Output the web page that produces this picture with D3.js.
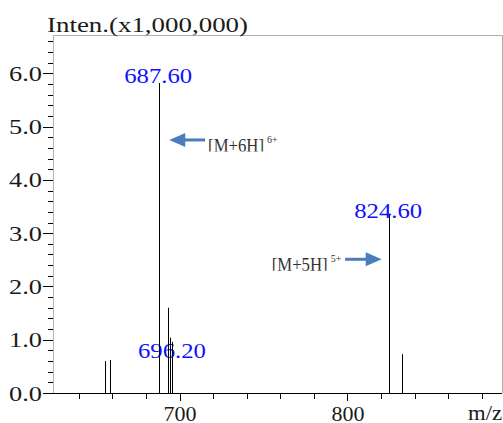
<!DOCTYPE html>
<html>
<head>
<meta charset="utf-8">
<script src="https://cdn.jsdelivr.net/npm/d3@7/dist/d3.min.js"></script>
<style>
  html, body { margin: 0; padding: 0; background: #fff; }
  svg { display: block; }
  text { font-family: "Liberation Serif", "DejaVu Serif", serif; }
</style>
</head>
<body>
<svg id="chart" width="503" height="423"></svg>
<script>
// ---- data ----
const peakMz        = [655.8, 658.8, 687.6, 693.3, 694.6, 695.8, 824.6, 832.3];
const peakIntensity = [0.60, 0.62, 5.82, 1.60, 1.04, 0.96, 3.34, 0.73];

const labelText      = ["687.60", "696.20", "824.60"];
const labelMz        = [687.6, 695.8, 824.6];
const labelIntensity = [5.82, 0.67, 3.30];

const annText    = ["[M+6H]", "[M+5H]"];
const annCharge  = ["6+", "5+"];
const annTailMz  = [715.2, 798.6];
const annTipMz   = [693.9, 820.4];
const annLevel   = [4.75, 2.51];
const annTextMz  = [717.0, 754.9];

const yMajorTicks = [0, 1, 2, 3, 4, 5, 6];
const yMinorTicks = d3.range(0, 34).map(i => i * 0.2);
const xMajorTicks = [700, 800];
const xMinorTicks = d3.range(640, 881, 20);

// ---- layout ----
const svg = d3.select("#chart");
const L = 53, R = 502, T = 35, B = 393;
const x = d3.scaleLinear().domain([624.65, 892.07]).range([L, R]);
const y = d3.scaleLinear().domain([0, 6.72]).range([B, T]);

const ink = "#000";
const frame = "#b0b0b0";
const blue = "#1010ff";
const arrowBlue = "#4a7ebb";
const annInk = "#333";
const textInk = "#1a1a1a";

// frame: left, top, right (gray)
svg.append("path")
  .attr("d", `M${L},${B}V${T}H${R}V${B}`)
  .attr("fill", "none").attr("stroke", frame).attr("stroke-width", 1)
  .attr("shape-rendering", "crispEdges");

// y axis minor
const gyMin = svg.append("g").attr("transform", `translate(${L},0)`)
  .call(d3.axisLeft(y).tickValues(yMinorTicks.filter(v => v <= 6.72)).tickSize(5).tickFormat(""));
gyMin.select(".domain").remove();
// y axis major
const gyMaj = svg.append("g").attr("transform", `translate(${L},0)`)
  .call(d3.axisLeft(y).tickValues(yMajorTicks).tickSize(10).tickPadding(1).tickFormat(d3.format(".1f")));
gyMaj.select(".domain").remove();
gyMaj.selectAll("text")
  .attr("font-size", 22).attr("font-family", "Liberation Serif")
  .attr("fill", textInk)
  .attr("textLength", 33).attr("lengthAdjust", "spacingAndGlyphs");

// x axis minor
const gxMin = svg.append("g").attr("transform", `translate(0,${B})`)
  .call(d3.axisBottom(x).tickValues(xMinorTicks).tickSize(6).tickFormat(""));
gxMin.select(".domain").remove();
const gxMaj = svg.append("g").attr("transform", `translate(0,${B})`)
  .call(d3.axisBottom(x).tickValues(xMajorTicks).tickSize(8).tickPadding(4).tickFormat(d3.format("d")));
gxMaj.select(".domain").remove();
gxMaj.selectAll("text")
  .attr("font-size", 22).attr("font-family", "Liberation Serif")
  .attr("fill", textInk)
  .attr("textLength", 33).attr("lengthAdjust", "spacingAndGlyphs");

svg.selectAll(".tick line").attr("stroke", ink).attr("shape-rendering", "crispEdges");

// baseline
svg.append("line")
  .attr("x1", L).attr("x2", R).attr("y1", B).attr("y2", B)
  .attr("stroke", ink).attr("shape-rendering", "crispEdges");

// title
svg.append("text")
  .attr("x", 47).attr("y", 32)
  .attr("font-size", 22).attr("fill", textInk)
  .attr("textLength", 201).attr("lengthAdjust", "spacingAndGlyphs")
  .text("Inten.(x1,000,000)");

// x axis title
svg.append("text")
  .attr("x", 502).attr("y", 420).attr("text-anchor", "end")
  .attr("font-size", 22).attr("fill", textInk)
  .attr("textLength", 34).attr("lengthAdjust", "spacingAndGlyphs")
  .text("m/z");

// peak labels (drawn under the sticks)
svg.append("g").selectAll("text")
  .data(labelText)
  .join("text")
  .attr("x", (d, i) => x(labelMz[i]) - 0.5)
  .attr("y", (d, i) => y(labelIntensity[i]) + 0.5)
  .attr("text-anchor", "middle")
  .attr("font-size", 22).attr("fill", blue)
  .attr("textLength", 68).attr("lengthAdjust", "spacingAndGlyphs")
  .text(d => d);

// peaks
svg.append("g").selectAll("line")
  .data(peakMz)
  .join("line")
  .attr("x1", d => Math.round(x(d)) + 0.5)
  .attr("x2", d => Math.round(x(d)) + 0.5)
  .attr("y1", B)
  .attr("y2", (d, i) => y(peakIntensity[i]))
  .attr("stroke", ink).attr("stroke-width", 1);

// annotations
const defs = svg.append("defs");
annText.forEach((t, i) => {
  const yy = y(annLevel[i]);
  const tail = x(annTailMz[i]);
  const tip = x(annTipMz[i]);
  const dir = tip < tail ? -1 : 1;
  const headLen = 16, headHalf = 7;
  svg.append("line")
    .attr("x1", tail).attr("x2", tip - dir * headLen + dir * 1)
    .attr("y1", yy).attr("y2", yy)
    .attr("stroke", arrowBlue).attr("stroke-width", 3);
  svg.append("path")
    .attr("d", `M${tip},${yy}L${tip - dir * headLen},${yy - headHalf}L${tip - dir * headLen},${yy + headHalf}Z`)
    .attr("fill", arrowBlue);

  const tx = x(annTextMz[i]);
  const baseline = yy + 12;
  const cid = "annclip" + i;
  defs.append("clipPath").attr("id", cid)
    .append("rect").attr("x", tx - 5).attr("y", yy - 20).attr("width", 120).attr("height", baseline - 0.5 - (yy - 20));
  svg.append("text")
    .attr("x", tx).attr("y", baseline)
    .attr("clip-path", `url(#${cid})`)
    .attr("font-size", 18).attr("fill", annInk)
    .attr("textLength", 56).attr("lengthAdjust", "spacingAndGlyphs")
    .text(t);
  svg.append("text")
    .attr("x", tx + 59).attr("y", yy + 3)
    .attr("font-size", 10).attr("fill", annInk)
    .text(annCharge[i]);
});
</script>
</body>
</html>
